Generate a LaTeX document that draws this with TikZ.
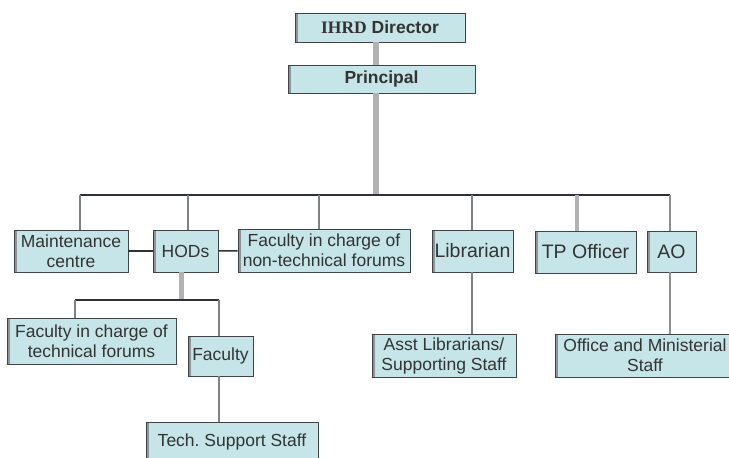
\documentclass[tikz,border=0pt]{standalone}
\usepackage{fontspec}
\setmainfont{Liberation Sans}
\newfontfamily\serifbold{Liberation Serif}
\definecolor{boxc}{HTML}{C6E5E9}
\definecolor{edgec}{HTML}{3F4448}
\definecolor{shadec}{HTML}{8E9396}
\definecolor{linec}{HTML}{2E3236}
\definecolor{dropc}{HTML}{7E8284}
\definecolor{thickc}{HTML}{B2B2B2}
\begin{document}
\begin{tikzpicture}[x=1pt,y=1pt,
  box/.style={draw=edgec, fill=boxc, line width=0.9pt, inner sep=0pt, align=center,
    font=\fontsize{17.5}{20}\selectfont, text=black!80,
    path picture={\draw[shadec,line width=5pt] (path picture bounding box.north west) -- (path picture bounding box.south west);}},
  bigtxt/.style={font=\fontsize{19.5}{21}\selectfont},
  topbox/.style={font=\fontsize{17.5}{19}\bfseries},
  bus/.style={draw=linec, line width=1.1pt},
  drop/.style={draw=dropc, line width=1.3pt},
  thick gray/.style={draw=thickc, line width=6pt},
]
\useasboundingbox (0,0) rectangle (729,-458);
% nodes
\node[box,topbox,minimum width=170,minimum height=29] (dir) at (380,-27.5) {{\serifbold IHRD} Director};
\node[box,topbox,minimum width=187,minimum height=28] (prin) at (381.5,-79) {Principal};
\node[box,minimum width=114,minimum height=42] (maint) at (71,-251) {Maintenance\\centre};
\node[box,minimum width=65,minimum height=42] (hods) at (185.5,-251) {HODs};
\node[box,minimum width=172,minimum height=43] (fnt) at (324,-250.5) {Faculty in charge of\\non-technical forums};
\node[box,bigtxt,minimum width=81,minimum height=42] (lib) at (472.5,-251) {Librarian};
\node[box,bigtxt,minimum width=101,minimum height=42] (tpo) at (585.5,-252) {TP Officer};
\node[box,bigtxt,minimum width=49,minimum height=41] (ao) at (671.5,-251.5) {AO};
\node[box,minimum width=169,minimum height=46] (ftf) at (91.5,-341) {Faculty in charge of\\technical forums};
\node[box,minimum width=65,minimum height=40] (fac) at (220.5,-356) {Faculty};
\node[box,minimum width=172,minimum height=40] (tss) at (232,-442) {Tech.\ Support Staff};
\node[box,minimum width=144,minimum height=43] (asst) at (444,-355.5) {Asst Librarians/\\Supporting Staff};
\node[box,minimum width=180,minimum height=43] (oms) at (645,-355.5) {Office and Ministerial\\Staff};
% coordinates
\coordinate (spine) at (376,-195);
\coordinate (busL) at (80,-195);
\coordinate (busR) at (670,-195);
\coordinate (hodbus) at (181,-300);
\coordinate (subL) at (75,-300);
\coordinate (subR) at (219,-300);
% connectors
\path[thick gray] (dir.south -| spine) -- (prin.north -| spine);
\path[thick gray] (prin.south -| spine) -- (spine);
\path[bus] (busL) -- (busR);
\path[drop] (busL) -- (busL |- maint.north);
\path[drop] (188,-195) -- (188,-195 |- hods.north);
\path[drop] (319,-195) -- (319,-195 |- fnt.north);
\path[drop] (472,-195) -- (472,-195 |- lib.north);
\path[draw=thickc, line width=4pt] (577,-195) -- (577,-195 |- tpo.north);
\path[draw=thickc!80!black, line width=2.5pt] (busR) -- (busR |- ao.north);
\path[bus, line width=1.6pt] (maint) -- (hods);
\path[bus, line width=1.6pt] (hods) -- (fnt);
\path[draw=thickc, line width=5pt] (hods.south -| hodbus) -- (hodbus);
\path[bus] (subL) -- (subR);
\path[drop] (subL) -- (subL |- ftf.north);
\path[drop] (subR) -- (subR |- fac.north);
\path[drop] (fac.south -| subR) -- (subR |- tss.north);
\path[drop] (lib.south -| 472,0) -- (472,0 |- asst.north);
\path[draw=thickc!80!black, line width=2.5pt] (ao.south -| busR) -- (busR |- oms.north);
\end{tikzpicture}
\end{document}
